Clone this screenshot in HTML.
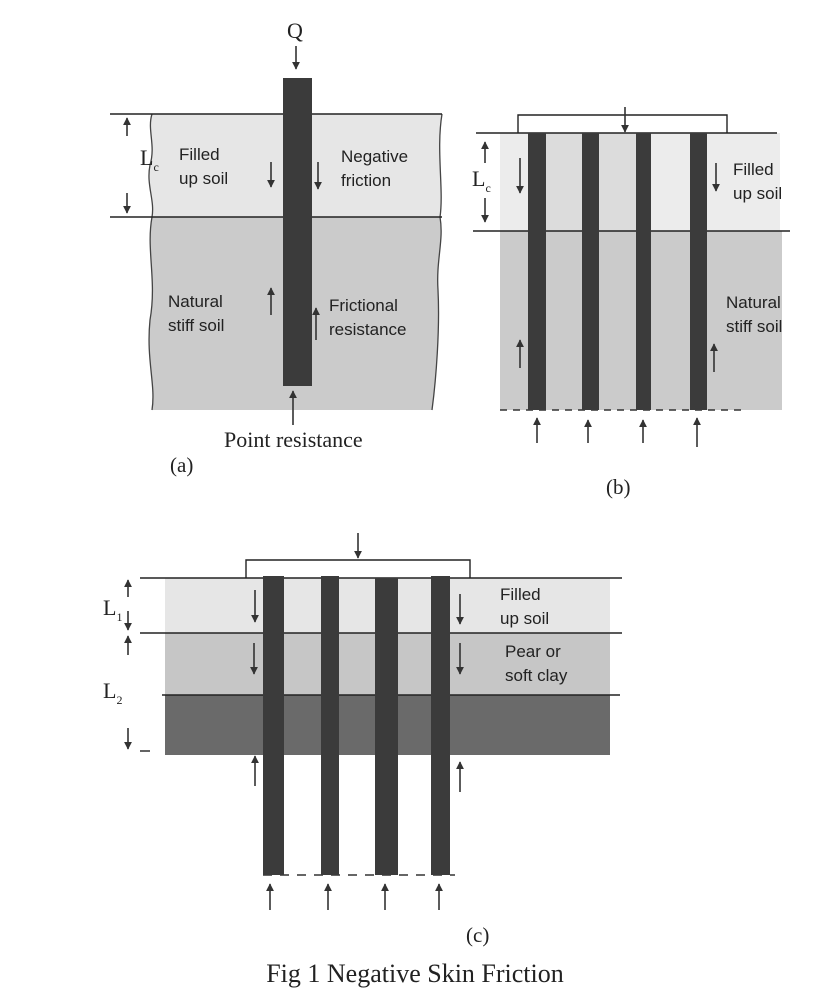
<!DOCTYPE html>
<html><head><meta charset="utf-8"><style>
html,body{margin:0;padding:0;background:#fff;}
svg{display:block;}
.s{font-family:"Liberation Sans",sans-serif;font-size:17px;fill:#222;}
.r{font-family:"Liberation Serif",serif;fill:#222;}
</style></head><body>
<svg width="831" height="1000" viewBox="0 0 831 1000" xmlns="http://www.w3.org/2000/svg">
<defs>
<marker id="ah" viewBox="0 0 10 10" refX="9" refY="5" markerWidth="5" markerHeight="5" orient="auto"><path d="M0,0 L10,5 L0,10 z" fill="#333"/></marker>
</defs>
<!-- (a) -->
<path d="M152,114 C147,130 156,145 150,165 C146,185 155,200 152,217 L440,217 C444,190 436,150 442,114 Z" fill="#e6e6e6"/>
<path d="M152,217 C146,250 157,280 150,320 C146,360 156,385 152,410 L432,410 C436,380 440,330 438,290 C436,260 444,240 440,217 Z" fill="#cbcbcb"/>
<path d="M152,114 C147,130 156,145 150,165 C146,185 155,200 152,217 C146,250 157,280 150,320 C146,360 156,385 152,410" fill="none" stroke="#444" stroke-width="1.3"/>
<path d="M442,114 C436,150 444,190 440,217 C444,240 436,260 438,290 C440,330 436,380 432,410" fill="none" stroke="#444" stroke-width="1.3"/>
<line x1="110" y1="114" x2="442" y2="114" stroke="#222" stroke-width="1.4"/>
<line x1="110" y1="217" x2="442" y2="217" stroke="#222" stroke-width="1.4"/>
<rect x="283" y="78" width="29" height="308" fill="#3b3b3b"/>
<text x="287" y="38" class="r" font-size="22">Q</text>
<text x="140" y="165" class="r" font-size="22">L<tspan font-size="12" dy="6">c</tspan></text>
<text class="s"><tspan x="179" y="160">Filled</tspan><tspan x="179" y="184">up soil</tspan></text>
<text class="s"><tspan x="341" y="162">Negative</tspan><tspan x="341" y="186">friction</tspan></text>
<text class="s"><tspan x="168" y="307">Natural</tspan><tspan x="168" y="331">stiff soil</tspan></text>
<text class="s"><tspan x="329" y="311">Frictional</tspan><tspan x="329" y="335">resistance</tspan></text>
<text x="224" y="447" class="r" font-size="22">Point resistance</text>
<text x="170" y="472" class="r" font-size="21">(a)</text>
<!-- (b) -->
<rect x="500" y="133" width="280" height="98" fill="#ececec"/>
<rect x="500" y="231" width="282" height="179" fill="#cbcbcb"/>
<rect x="546" y="133" width="90" height="98" fill="#dcdcdc"/>
<polyline points="518,133 518,115 727,115 727,133" fill="none" stroke="#222" stroke-width="1.4"/>
<line x1="476" y1="133" x2="777" y2="133" stroke="#222" stroke-width="1.4"/>
<line x1="473" y1="231" x2="790" y2="231" stroke="#222" stroke-width="1.4"/>
<line x1="500" y1="410" x2="745" y2="410" stroke="#333" stroke-width="1.6" stroke-dasharray="7,6"/>
<rect x="528" y="133" width="18" height="277" fill="#3b3b3b"/>
<rect x="582" y="133" width="17" height="277" fill="#3b3b3b"/>
<rect x="636" y="133" width="15" height="277" fill="#3b3b3b"/>
<rect x="690" y="133" width="17" height="277" fill="#3b3b3b"/>
<text x="472" y="186" class="r" font-size="22">L<tspan font-size="12" dy="6">c</tspan></text>
<text class="s"><tspan x="733" y="175">Filled</tspan><tspan x="733" y="199">up soil</tspan></text>
<text class="s"><tspan x="726" y="308">Natural</tspan><tspan x="726" y="332">stiff soil</tspan></text>
<text x="606" y="494" class="r" font-size="21">(b)</text>
<!-- (c) -->
<rect x="165" y="578" width="445" height="55" fill="#e6e6e6"/>
<rect x="165" y="633" width="445" height="62" fill="#c6c6c6"/>
<rect x="165" y="695" width="445" height="60" fill="#6a6a6a"/>
<polyline points="246,578 246,560 470,560 470,578" fill="none" stroke="#222" stroke-width="1.4"/>
<line x1="140" y1="578" x2="622" y2="578" stroke="#222" stroke-width="1.4"/>
<line x1="140" y1="633" x2="622" y2="633" stroke="#222" stroke-width="1.4"/>
<line x1="162" y1="695" x2="620" y2="695" stroke="#222" stroke-width="1.4"/>
<line x1="140" y1="751" x2="150" y2="751" stroke="#222" stroke-width="1.4"/>
<line x1="263" y1="875" x2="455" y2="875" stroke="#333" stroke-width="1.6" stroke-dasharray="9,8"/>
<rect x="263" y="576" width="21" height="299" fill="#3b3b3b"/>
<rect x="321" y="576" width="18" height="299" fill="#3b3b3b"/>
<rect x="375" y="578" width="23" height="297" fill="#3b3b3b"/>
<rect x="431" y="576" width="19" height="299" fill="#3b3b3b"/>
<text x="103" y="615" class="r" font-size="22">L<tspan font-size="12" dy="6">1</tspan></text>
<text x="103" y="698" class="r" font-size="22">L<tspan font-size="12" dy="6">2</tspan></text>
<text class="s"><tspan x="500" y="600">Filled</tspan><tspan x="500" y="624">up soil</tspan></text>
<text class="s"><tspan x="505" y="657">Pear or</tspan><tspan x="505" y="681">soft clay</tspan></text>
<text x="466" y="942" class="r" font-size="21">(c)</text>
<text x="415" y="982" class="r" font-size="26" text-anchor="middle">Fig 1 Negative Skin Friction</text>
<!-- arrows -->
<g stroke="#333" stroke-width="1.6" marker-end="url(#ah)" fill="none">
<line x1="296" y1="46" x2="296" y2="69"/>
<line x1="127" y1="136" x2="127" y2="118"/>
<line x1="127" y1="193" x2="127" y2="213"/>
<line x1="271" y1="162" x2="271" y2="187"/>
<line x1="318" y1="162" x2="318" y2="189"/>
<line x1="271" y1="315" x2="271" y2="288"/>
<line x1="316" y1="340" x2="316" y2="308"/>
<line x1="293" y1="425" x2="293" y2="391"/>
<line x1="625" y1="107" x2="625" y2="132"/>
<line x1="485" y1="163" x2="485" y2="142"/>
<line x1="485" y1="198" x2="485" y2="222"/>
<line x1="520" y1="158" x2="520" y2="193"/>
<line x1="716" y1="163" x2="716" y2="191"/>
<line x1="520" y1="368" x2="520" y2="340"/>
<line x1="714" y1="372" x2="714" y2="344"/>
<line x1="537" y1="443" x2="537" y2="418"/>
<line x1="588" y1="443" x2="588" y2="420"/>
<line x1="643" y1="443" x2="643" y2="420"/>
<line x1="697" y1="447" x2="697" y2="418"/>
<line x1="358" y1="533" x2="358" y2="558"/>
<line x1="128" y1="597" x2="128" y2="580"/>
<line x1="128" y1="611" x2="128" y2="630"/>
<line x1="128" y1="655" x2="128" y2="636"/>
<line x1="128" y1="728" x2="128" y2="749"/>
<line x1="255" y1="590" x2="255" y2="622"/>
<line x1="460" y1="594" x2="460" y2="624"/>
<line x1="254" y1="643" x2="254" y2="674"/>
<line x1="460" y1="643" x2="460" y2="674"/>
<line x1="255" y1="786" x2="255" y2="756"/>
<line x1="460" y1="792" x2="460" y2="762"/>
<line x1="270" y1="910" x2="270" y2="884"/>
<line x1="328" y1="910" x2="328" y2="884"/>
<line x1="385" y1="910" x2="385" y2="884"/>
<line x1="439" y1="910" x2="439" y2="884"/>
</g>
</svg>
</body></html>
